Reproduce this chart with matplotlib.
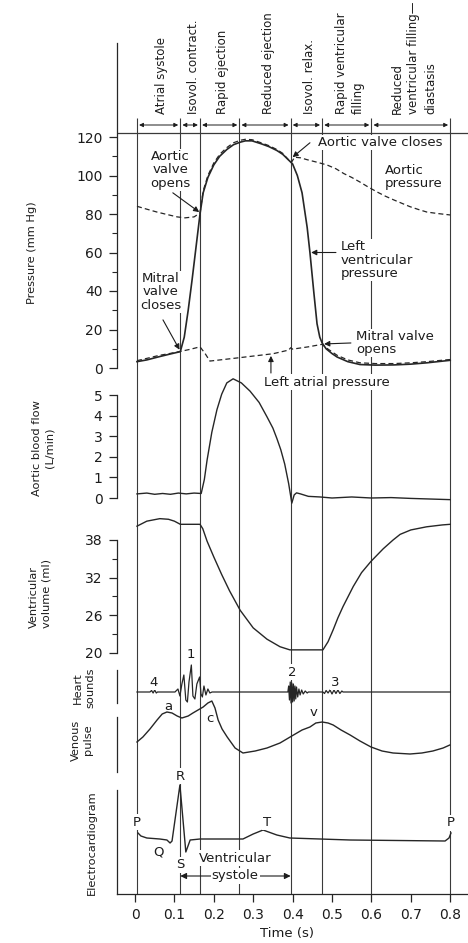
import matplotlib

matplotlib.use("Agg")
import matplotlib.pyplot as plt

plt.rcParams["font.family"] = ["DejaVu Sans"]

INK = "#1c1c1c"
LINE = "#262626"
RULE = "#3a3a3a"

# cardiac cycle phases (s)
PHASE_EDGES = [0.005, 0.115, 0.165, 0.265, 0.395, 0.475, 0.6, 0.8]
PHASE_LABELS = [
    "Atrial systole",
    "Isovol. contract.",
    "Rapid ejection",
    "Reduced ejection",
    "Isovol. relax.",
    "Rapid ventricular\nfilling",
    "Reduced\nventricular filling—\ndiastasis",
]

# pressures (mm Hg)
LV_T = [0.005, 0.03, 0.06, 0.09, 0.115, 0.125, 0.135, 0.145, 0.155, 0.165, 0.173,
        0.185, 0.2, 0.215, 0.233, 0.25, 0.267, 0.28, 0.297, 0.32, 0.34, 0.36, 0.375,
        0.39, 0.4, 0.412, 0.424, 0.437, 0.444, 0.454, 0.462, 0.469, 0.475, 0.485,
        0.5, 0.513, 0.54, 0.571, 0.61, 0.657, 0.7, 0.741, 0.8]
LV_P = [3.3, 4.2, 5.8, 7.3, 8.5, 16, 30, 46, 63, 80, 91,
        99, 105.5, 110, 113.5, 116, 117.3, 118, 118, 116.5, 115, 113, 111,
        108, 106, 100, 91, 73, 60, 39, 23, 16, 13, 10,
        7.5, 5.7, 3.3, 1.8, 1.5, 1.6, 2.0, 2.7, 4.0]

AO_T = [0.005, 0.03, 0.056, 0.08, 0.107, 0.127, 0.15, 0.165, 0.173, 0.185, 0.2,
        0.215, 0.233, 0.25, 0.267, 0.28, 0.297, 0.32, 0.34, 0.36, 0.375, 0.388,
        0.397, 0.405, 0.42, 0.437, 0.46, 0.487, 0.51, 0.53, 0.55, 0.571, 0.592,
        0.614, 0.635, 0.657, 0.678, 0.698, 0.72, 0.741, 0.77, 0.8]
AO_P = [84, 82.5, 81, 79.8, 78.5, 78, 78.5, 80.5, 92, 100, 106.5,
        111, 114.5, 117, 118.3, 118.8, 118.6, 117, 115.5, 113.5, 111.5, 108.5,
        106.8, 109.5, 109.2, 108.2, 107, 105.5, 103.5, 101, 99, 96.6, 94,
        91.5, 89.3, 87.3, 85.5, 83.8, 82.3, 81, 80.2, 79.5]

LA_T = [0.005, 0.03, 0.06, 0.09, 0.115, 0.14, 0.165, 0.178, 0.19, 0.25, 0.3,
        0.35, 0.39, 0.395, 0.4, 0.44, 0.475, 0.49, 0.513, 0.54, 0.571, 0.61,
        0.657, 0.7, 0.741, 0.8]
LA_P = [3.8, 5.0, 6.5, 7.6, 8.6, 9.7, 11, 7.5, 3.6, 5.0, 6.2,
        7.4, 9.3, 10.5, 9.8, 11, 12.3, 9.8, 6.6, 4.2, 2.7, 2.3,
        2.3, 2.7, 3.3, 4.4]

# aortic blood flow (L/min)
FLOW_T = [0.005, 0.03, 0.05, 0.07, 0.09, 0.11, 0.13, 0.15, 0.168, 0.176, 0.183,
          0.195, 0.208, 0.22, 0.233, 0.249, 0.27, 0.292, 0.315, 0.335, 0.35, 0.36,
          0.37, 0.38, 0.39, 0.398, 0.404, 0.41, 0.42, 0.44, 0.47, 0.5, 0.55, 0.6,
          0.65, 0.7, 0.75, 0.8]
FLOW = [0.2, 0.24, 0.18, 0.22, 0.18, 0.24, 0.2, 0.24, 0.22, 0.9, 1.85,
        3.2, 4.3, 5.05, 5.6, 5.8, 5.6, 5.2, 4.65, 3.95, 3.4, 2.9,
        2.35, 1.65, 0.7, -0.25, 0.15, 0.25, 0.2, 0.08, 0.05, 0.0, 0.05, 0.0,
        0.02, -0.02, -0.05, -0.08]

# ventricular volume (ml)
VOL_T = [0.005, 0.03, 0.063, 0.085, 0.1, 0.115, 0.165, 0.172, 0.183, 0.2, 0.22,
         0.24, 0.267, 0.3, 0.335, 0.368, 0.393, 0.477, 0.49, 0.503, 0.515, 0.528,
         0.554, 0.575, 0.599, 0.63, 0.655, 0.673, 0.7, 0.74, 0.78, 0.8]
VOL = [40.2, 41.0, 41.4, 41.3, 41.0, 40.5, 40.5, 39.8, 37.8, 35.3, 32.5,
       29.9, 26.8, 24.0, 22.2, 21.0, 20.5, 20.5, 21.8, 23.7, 25.6, 27.4,
       30.6, 32.8, 34.6, 36.6, 38.0, 38.9, 39.6, 40.1, 40.4, 40.5]

# heart sounds (trace deflection)
HS_T = [0.005, 0.038, 0.042, 0.046, 0.05, 0.054, 0.057,
        0.1015, 0.109, 0.114, 0.119, 0.124, 0.129, 0.133, 0.137, 0.143, 0.147,
        0.152, 0.157, 0.164, 0.1675, 0.171, 0.175, 0.18, 0.185, 0.19, 0.1955,
        0.388, 0.39, 0.392, 0.394, 0.396, 0.398, 0.4, 0.402, 0.404, 0.406,
        0.408, 0.41, 0.413, 0.416, 0.419, 0.423, 0.427, 0.432, 0.437, 0.44,
        0.477, 0.481, 0.485, 0.49, 0.495, 0.5, 0.505, 0.51, 0.515, 0.52, 0.525,
        0.528, 0.8]
HS = [0, 0, 1.5, -1, 2, -1, 0,
      0, 3, -4, 8, 17, -8, -10, 10, 27, -4,
      -7, 8, 15, -2, -5, 6, -3, 3, -1, 0,
      0, 6, -8, 10, -11, 9, -10, 8, -9, 6,
      -7, 5, -5, 3, -3, 2, -2, 1, -1, 0,
      0, -1.5, 1.5, -1, 2, -2, 2, -1.5, 2, -1.5, 1,
      0, 0]

# venous pulse (arbitrary units)
VP_T = [0.005, 0.02, 0.038, 0.056, 0.069, 0.081, 0.094, 0.107, 0.119, 0.135, 0.147,
        0.173, 0.185, 0.195, 0.203, 0.211, 0.221, 0.234, 0.254, 0.274, 0.305,
        0.335, 0.368, 0.398, 0.424, 0.444, 0.459, 0.475, 0.49, 0.503, 0.523,
        0.546, 0.571, 0.599, 0.627, 0.655, 0.698, 0.728, 0.756, 0.782, 0.799]
VP = [1.8, 2.3, 3.1, 4.0, 4.6, 4.8, 4.7, 4.4, 4.2, 4.4, 4.7,
      5.3, 5.7, 5.9, 5.2, 4.0, 3.1, 2.3, 1.2, 0.7, 0.9,
      1.2, 1.7, 2.4, 3.0, 3.3, 3.7, 3.8, 3.7, 3.5, 3.0,
      2.5, 1.9, 1.3, 0.9, 0.7, 0.6, 0.7, 0.9, 1.2, 1.5]

# electrocardiogram (arbitrary units)
ECG_T = [0.0076, 0.015, 0.03, 0.063, 0.081, 0.089, 0.094, 0.114, 0.129, 0.14,
         0.165, 0.274, 0.3, 0.325, 0.36, 0.393, 0.546, 0.787, 0.797, 0.802]
ECG = [0.5, 0.2, 0.0, -0.1, -0.2, -0.5, -0.3, 5.3, -1.4, -0.2,
       -0.1, -0.1, 0.4, 0.8, 0.3, 0.0, -0.2, -0.3, 0.0, 0.5]

TIME_TICKS = [0, 0.1, 0.2, 0.3, 0.4, 0.5, 0.6, 0.7, 0.8]
TIME_LABELS = ["0", "0.1", "0.2", "0.3", "0.4", "0.5", "0.6", "0.7", "0.8"]

# page geometry in pixels
W, H = 468, 943
X_LEFT, X_RIGHT = 117, 468
T_ORIGIN_PX, PX_PER_S = 135, 394
T0 = (X_LEFT - T_ORIGIN_PX) / PX_PER_S
T1 = (X_RIGHT - T_ORIGIN_PX) / PX_PER_S

fig = plt.figure(figsize=(W / 100, H / 100), dpi=100)
fig.set_facecolor("white")

BOX = dict(boxstyle="square,pad=0.08", fc="white", ec="none")
ARROW = dict(arrowstyle="-|>", color=INK, lw=0.8, mutation_scale=8, shrinkA=0, shrinkB=0)
LABEL_SIZE = 9.5


def panel(top, bottom, ref_px, ref_val, px_per_unit):
    ax = fig.add_axes([X_LEFT / W, 1 - bottom / H, (X_RIGHT - X_LEFT) / W, (bottom - top) / H])
    ax.set_xlim(T0, T1)
    ax.set_ylim(ref_val - (bottom - ref_px) / px_per_unit, ref_val + (ref_px - top) / px_per_unit)
    ax.patch.set_visible(False)
    for side in ("top", "right", "bottom"):
        ax.spines[side].set_visible(False)
    ax.spines["left"].set_color(LINE)
    ax.spines["left"].set_linewidth(0.9)
    ax.tick_params(axis="x", bottom=False, labelbottom=False)
    ax.tick_params(axis="y", direction="out", length=5.5, width=0.9, color=LINE,
                   labelcolor=INK, labelsize=10, pad=5)
    ax.tick_params(axis="y", which="minor", length=3.5, width=0.8, color=LINE)
    return ax


def side_label(x, y, s, align="center"):
    fig.text(x / W, 1 - y / H, s, rotation=90, ha="center", va="center",
             multialignment=align, fontsize=8.2, color=INK, linespacing=1.3)


# phase rules, header arrows and phase names
frame = fig.add_axes([X_LEFT / W, 0, (X_RIGHT - X_LEFT) / W, 1])
frame.set_xlim(T0, T1)
frame.set_ylim(H, 0)
frame.axis("off")
frame.vlines(PHASE_EDGES, 118, 894, color=RULE, lw=0.8)
frame.hlines(133, T0, T1, color=RULE, lw=0.9)
for a, b, name in zip(PHASE_EDGES[:-1], PHASE_EDGES[1:], PHASE_LABELS):
    frame.annotate("", xy=(a, 125), xytext=(b, 125),
                   arrowprops=dict(arrowstyle="<|-|>", color=INK, lw=0.7,
                                   mutation_scale=6, shrinkA=1.5, shrinkB=1.5))
    frame.text((a + b) / 2 + 0.008, 114, name, rotation=90, ha="center", va="bottom",
               multialignment="left", fontsize=8.5, color=INK, linespacing=1.4)

# pressure
ap = panel(43, 368, 368, 0, 1.925)
ap.set_yticks(range(0, 121, 20))
ap.set_yticks(range(10, 111, 20), minor=True)
ap.plot(LV_T, LV_P, color=LINE, lw=1.2)
ap.plot(AO_T, AO_P, color=LINE, lw=0.9, ls=(0, (4, 2.5)))
ap.plot(LA_T, LA_P, color=LINE, lw=0.9, ls=(0, (4, 2.5)))

txt = dict(fontsize=LABEL_SIZE, color=INK, va="center", linespacing=1.05, bbox=BOX)
ap.text(0.089, 103, "Aortic\nvalve\nopens", ha="center", **txt)
ap.annotate("", xy=(0.163, 81), xytext=(0.096, 91), arrowprops=ARROW)
ap.text(0.066, 39.5, "Mitral\nvalve\ncloses", ha="center", **txt)
ap.annotate("", xy=(0.113, 9.5), xytext=(0.071, 25), arrowprops=ARROW)
ap.text(0.622, 117, "Aortic valve closes", ha="center", **txt)
ap.annotate("", xy=(0.4, 109.5), xytext=(0.444, 117), arrowprops=ARROW)
ap.text(0.635, 99.2, "Aortic\npressure", ha="left", **txt)
ap.text(0.523, 56, "Left\nventricular\npressure", ha="left", **txt)
ap.annotate("", xy=(0.447, 60), xytext=(0.51, 60), arrowprops=ARROW)
ap.text(0.561, 13, "Mitral valve\nopens", ha="left", **txt)
ap.annotate("", xy=(0.48, 12.5), xytext=(0.548, 13), arrowprops=ARROW)
ap.text(0.487, -7.3, "Left atrial pressure", ha="center", **txt)
ap.annotate("", xy=(0.345, 6.3), xytext=(0.345, -2.6), arrowprops=ARROW)

# aortic flow
af = panel(372, 506, 498, 0, 20.55)
af.set_yticks(range(0, 6))
af.spines["left"].set_bounds(0, 5)
af.plot(FLOW_T, FLOW, color=LINE, lw=1.0)

# ventricular volume
av = panel(515, 656, 653, 20, 6.278)
av.set_yticks([20, 26, 32, 38])
av.set_yticks([23, 29, 35], minor=True)
av.spines["left"].set_bounds(20, 38)
av.plot(VOL_T, VOL, color=LINE, lw=1.0)

# heart sounds
ah = panel(648, 712, 692, 0, 1.0)
ah.set_yticks([])
ah.spines["left"].set_bounds(-11, 22)
ah.plot(HS_T, HS, color=LINE, lw=0.9)
for t, v, s in [(0.046, 10, "4"), (0.142, 37, "1"), (0.398, 20, "2"), (0.508, 10, "3")]:
    ah.text(t, v, s, ha="center", va="center", fontsize=LABEL_SIZE, color=INK, bbox=BOX)

# venous pulse
avp = panel(695, 778, 760, 0, 10)
avp.set_yticks([])
avp.spines["left"].set_bounds(-1.2, 4.3)
avp.plot(VP_T, VP, color=LINE, lw=1.0)
for t, v, s in [(0.084, 5.4, "a"), (0.19, 4.2, "c"), (0.452, 4.7, "v")]:
    avp.text(t, v, s, ha="center", va="center", fontsize=LABEL_SIZE, color=INK)

# electrocardiogram with the time axis
ae = panel(770, 894, 838, 0, 10)
ae.set_yticks([])
ae.spines["left"].set_bounds(-5.6, 4.8)
ae.spines["bottom"].set_visible(True)
ae.spines["bottom"].set_color(LINE)
ae.spines["bottom"].set_linewidth(0.9)
ae.set_xticks(TIME_TICKS)
ae.set_xticklabels(TIME_LABELS)
ae.tick_params(axis="x", bottom=True, labelbottom=True, direction="out", length=6,
               width=0.9, color=LINE, labelcolor=INK, labelsize=10, pad=4)
ae.plot(ECG_T, ECG, color=LINE, lw=1.0)
for t, v, s in [(0.005, 1.6, "P"), (0.06, -1.4, "Q"), (0.114, 6.2, "R"),
                (0.114, -2.7, "S"), (0.335, 1.6, "T"), (0.802, 1.5, "P")]:
    ae.text(t, v, s, ha="center", va="center", fontsize=LABEL_SIZE, color=INK, bbox=BOX)
ae.annotate("", xy=(0.115, -3.8), xytext=(0.395, -3.8),
            arrowprops=dict(arrowstyle="<|-|>", color=INK, lw=0.8, mutation_scale=9,
                            shrinkA=0, shrinkB=0))
ae.text(0.254, -2.0, "Ventricular", ha="center", va="center", fontsize=LABEL_SIZE, color=INK, bbox=BOX)
ae.text(0.254, -3.8, "systole", ha="center", va="center", fontsize=LABEL_SIZE, color=INK, bbox=BOX)

# panel titles
side_label(32, 253, "Pressure (mm Hg)")
side_label(43, 448, "Aortic blood flow\n(L/min)")
side_label(40, 594, "Ventricular\nvolume (ml)", align="left")
side_label(84, 688, "Heart\nsounds")
side_label(82, 740, "Venous\npulse")
side_label(92, 843, "Electrocardiogram")
fig.text(287 / W, 1 - 933 / H, "Time (s)", ha="center", va="center", fontsize=9.5, color=INK)

fig.savefig("out.png", dpi=100, facecolor="white")
